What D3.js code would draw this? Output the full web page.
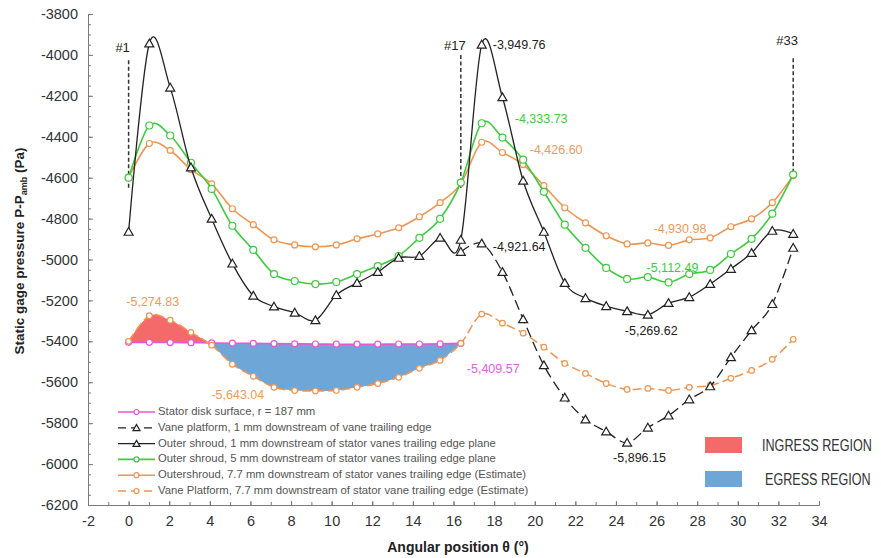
<!DOCTYPE html>
<html>
<head>
<meta charset="utf-8">
<script src="https://cdn.jsdelivr.net/npm/d3@7"></script>
<style>
  body { margin: 0; background: #fff; }
  svg { font-family: Arial, "Liberation Sans", sans-serif; }
</style>
</head>
<body>
<svg width="881" height="558"></svg>
<script>
// Angular positions of the 33 pressure taps (deg)
var theta = [0, 1.02, 2.05, 3.07, 4.09, 5.11, 6.14, 7.16, 8.18, 9.20, 10.23, 11.25, 12.27, 13.30, 14.32, 15.34,
  16.36, 17.39, 18.41, 19.43, 20.45, 21.48, 22.50, 23.52, 24.55, 25.57, 26.59, 27.61, 28.64, 29.66, 30.68, 31.70, 32.73];

// Static gage pressure (Pa)
var statorDisk = [-5405, -5405, -5406, -5407, -5408, -5409, -5410, -5411, -5412, -5413, -5414, -5414, -5414, -5413,
  -5413, -5412, -5410];
var vane1mm = [null, null, null, null, null, null, null, null, null, null, null, null, null, null, null, null,
  -4963, -4922, -5061, -5292, -5517, -5675, -5782, -5841, -5896, -5822, -5763, -5684, -5620, -5478, -5346, -5218, -4943];
var outer1mm = [-4865, -3944, -4160, -4550, -4801, -5020, -5177, -5230, -5260, -5297, -5174, -5115, -5061, -4992,
  -4983, -4894, -4904, -3950, -4207, -4615, -4865, -5115, -5189, -5228, -5253, -5270, -5213, -5184, -5120, -5046,
  -4968, -4860, -4875];
var outer5mm = [-4600, -4345, -4394, -4527, -4655, -4835, -4953, -5071, -5105, -5120, -5110, -5071, -5032, -4983,
  -4894, -4801, -4624, -4334, -4404, -4512, -4669, -4830, -4943, -5041, -5095, -5086, -5112, -5071, -5051, -4973,
  -4899, -4776, -4585];
var outer77 = [-4600, -4433, -4467, -4561, -4630, -4752, -4830, -4904, -4929, -4938, -4929, -4899, -4875, -4845,
  -4791, -4722, -4629, -4427, -4477, -4536, -4639, -4747, -4821, -4884, -4924, -4919, -4931, -4904, -4894, -4840,
  -4801, -4722, -4590];
var vane77 = [-5400, -5275, -5297, -5356, -5419, -5512, -5571, -5625, -5640, -5643, -5640, -5625, -5606, -5576,
  -5532, -5493, -5410, -5267, -5311, -5360, -5429, -5508, -5557, -5606, -5635, -5630, -5640, -5625, -5616, -5581,
  -5542, -5488, -5390];

var legendNames = [
  'Stator disk surface, r = 187 mm',
  'Vane platform, 1 mm downstream of vane trailing edge',
  'Outer shroud, 1 mm downstream of stator vanes trailing edge plane',
  'Outer shroud, 5 mm downstream of stator vanes trailing edge plane',
  'Outershroud, 7.7 mm downstream of stator vanes trailing edge (Estimate)',
  'Vane Platform, 7.7 mm downstream of stator vane trailing edge (Estimate)'
];

var xTicks = [-2, 0, 2, 4, 6, 8, 10, 12, 14, 16, 18, 20, 22, 24, 26, 28, 30, 32, 34];
var yTicks = [-3800, -4000, -4200, -4400, -4600, -4800, -5000, -5200, -5400, -5600, -5800, -6000, -6200];

var svg = d3.select('svg');

var xScale = d3.scaleLinear().domain([-2, 34]).range([88, 819]);
var yScale = d3.scaleLinear().domain([-6200, -3800]).range([505, 14]);

var curve = d3.curveCardinal.tension(0);

// series styling
var series = [
  {name: legendNames[0], values: statorDisk, color: '#e757d6', dash: null, marker: 'circle', r: 3, width: 1.6},
  {name: legendNames[5], values: vane77, color: '#f0954f', dash: '9,4', marker: 'circle', r: 2.8, width: 1.5},
  {name: legendNames[4], values: outer77, color: '#f0954f', dash: null, marker: 'circle', r: 3, width: 1.6},
  {name: legendNames[3], values: outer5mm, color: '#3ccc3c', dash: null, marker: 'circle', r: 3.5, width: 1.6},
  {name: legendNames[2], values: outer1mm, color: '#222', dash: null, marker: 'triangle', r: 3.2, width: 1.3},
  {name: legendNames[1], values: vane1mm, color: '#222', dash: '10,5', marker: 'triangle', r: 3.2, width: 1.3}
];

function pts(values) {
  return values.map(function(v, i) { return {x: theta[i], y: v}; })
    .filter(function(d) { return d.y !== null; });
}

// ---- ingress / egress fill between stator disk and vane platform 7.7 mm
var defs = svg.append('defs');
var fillPts = statorDisk.map(function(v, i) { return {x: theta[i], s: v, v: vane77[i]}; });

defs.append('clipPath').attr('id', 'aboveDisk').append('path')
  .attr('d', d3.area().curve(curve)
    .x(function(d) { return xScale(d.x); })
    .y0(function(d) { return yScale(d.s); })
    .y1(yScale(-3800))(fillPts));
defs.append('clipPath').attr('id', 'belowDisk').append('path')
  .attr('d', d3.area().curve(curve)
    .x(function(d) { return xScale(d.x); })
    .y0(function(d) { return yScale(d.s); })
    .y1(yScale(-6200))(fillPts));

var fillArea = d3.area().curve(curve)
  .x(function(d) { return xScale(d.x); })
  .y0(function(d) { return yScale(d.s); })
  .y1(function(d) { return yScale(d.v); });

svg.append('path').attr('d', fillArea(fillPts)).attr('fill', '#f46a6a').attr('clip-path', 'url(#aboveDisk)');
svg.append('path').attr('d', fillArea(fillPts)).attr('fill', '#6ea6d8').attr('clip-path', 'url(#belowDisk)');

// ---- axes
var axisColor = '#7a7a7a';
var yMinor = d3.range(-6200, -3799, 50);
var xMinor = d3.range(-2, 34.5, 1);

svg.append('g').attr('transform', 'translate(88,0)')
  .call(d3.axisLeft(yScale).tickValues(yMinor).tickSize(-3).tickSizeOuter(0).tickFormat(''))
  .call(function(g) { g.selectAll('line, path').attr('stroke', axisColor); });
var yAxisG = svg.append('g').attr('transform', 'translate(88,0)')
  .call(d3.axisLeft(yScale).tickValues(yTicks).tickSize(-5).tickSizeOuter(0).tickPadding(10)
    .tickFormat(function(d) { return String(d); }));
yAxisG.selectAll('line, path').attr('stroke', axisColor);
yAxisG.selectAll('text').attr('font-size', 14.5).attr('fill', '#333').attr('font-family', null);

svg.append('g').attr('transform', 'translate(0,505)')
  .call(d3.axisBottom(xScale).tickValues(xMinor).tickSize(-3).tickSizeOuter(0).tickFormat(''))
  .call(function(g) { g.selectAll('line, path').attr('stroke', axisColor); });
var xAxisG = svg.append('g').attr('transform', 'translate(0,505)')
  .call(d3.axisBottom(xScale).tickValues(xTicks).tickSize(-4).tickSizeOuter(0).tickPadding(11)
    .tickFormat(function(d) { return String(d); }));
xAxisG.selectAll('line, path').attr('stroke', axisColor);
xAxisG.selectAll('text').attr('font-size', 14.5).attr('fill', '#333').attr('font-family', null);

// axis titles
svg.append('text')
  .attr('x', 458).attr('y', 552)
  .attr('text-anchor', 'middle').attr('font-size', 14).attr('font-weight', 'bold').attr('fill', '#222')
  .text('Angular position θ  (°)');

var yTitle = svg.append('text')
  .attr('transform', 'translate(24,251) rotate(-90)')
  .attr('text-anchor', 'middle').attr('font-size', 13.5).attr('font-weight', 'bold').attr('fill', '#222');
yTitle.append('tspan').text('Static gage pressure P-P');
yTitle.append('tspan').attr('font-size', 9).attr('dy', 3).text('amb');
yTitle.append('tspan').attr('dy', -3).text('  (Pa)');

// ---- reference taps (#1, #17, #33)
var taps = [{label: '#1', i: 0, top: -4026, bottom: -4650, ly: -3967},
            {label: '#17', i: 16, top: -4001, bottom: -4650, ly: -3957},
            {label: '#33', i: 32, top: -4016, bottom: -4590, ly: -3937}];
taps.forEach(function(t) {
  svg.append('line')
    .attr('x1', xScale(theta[t.i])).attr('x2', xScale(theta[t.i]))
    .attr('y1', yScale(t.top)).attr('y2', yScale(t.bottom))
    .attr('stroke', '#333').attr('stroke-width', 1.5).attr('stroke-dasharray', '4,2.5');
  svg.append('text')
    .attr('x', xScale(theta[t.i]) - 6).attr('y', yScale(t.ly))
    .attr('text-anchor', 'middle').attr('dominant-baseline', 'middle')
    .attr('font-size', 13).attr('fill', '#222')
    .text(t.label);
});

// ---- lines and markers
function drawMarker(g, s, x, y, r) {
  if (s.marker === 'circle') {
    g.append('circle').attr('cx', x).attr('cy', y).attr('r', r)
      .attr('fill', '#fff').attr('stroke', s.color).attr('stroke-width', 1.2);
  } else {
    g.append('path').attr('d', d3.symbol(d3.symbolTriangle, r * r * 3.4)())
      .attr('transform', 'translate(' + x + ',' + (y + 0.8) + ')')
      .attr('fill', '#fff').attr('stroke', s.color).attr('stroke-width', 1.2);
  }
}

var line = d3.line().curve(curve)
  .x(function(d) { return xScale(d.x); })
  .y(function(d) { return yScale(d.y); });

series.forEach(function(s) {
  var data = pts(s.values);
  var g = svg.append('g');
  g.append('path').attr('d', line(data))
    .attr('fill', 'none').attr('stroke', s.color).attr('stroke-width', s.width)
    .attr('stroke-dasharray', s.dash);
  data.forEach(function(d) { drawMarker(g, s, xScale(d.x), yScale(d.y), s.r); });
});

// ---- value labels, anchored to data points
var labels = [
  {text: '-3,949.76', values: outer1mm, i: 17, dx: 11, dy: 1, color: '#222'},
  {text: '-4,333.73', values: outer5mm, i: 17, dx: 33, dy: -4, color: '#3ccc3c'},
  {text: '-4,426.60', values: outer77, i: 17, dx: 48, dy: 8, color: '#f09a5a'},
  {text: '-4,921.64', values: vane1mm, i: 17, dx: 11, dy: 4, color: '#222'},
  {text: '-4,930.98', values: outer77, i: 26, dx: -15, dy: -16, color: '#f09a5a'},
  {text: '-5,112.49', values: outer5mm, i: 26, dx: -22, dy: -14, color: '#3ccc3c'},
  {text: '-5,269.62', values: outer1mm, i: 25, dx: -23, dy: 17, color: '#222'},
  {text: '-5,896.15', values: vane1mm, i: 24, dx: -14, dy: 16, color: '#222'},
  {text: '-5,409.57', values: statorDisk, i: 16, dx: 6, dy: 26, color: '#e060de'},
  {text: '-5,274.83', values: vane77, i: 1, dx: -23, dy: -13, color: '#f09a5a'},
  {text: '-5,643.04', values: vane77, i: 9, dx: -104, dy: 5, color: '#f09a5a'}
];
labels.forEach(function(l) {
  svg.append('text')
    .attr('x', xScale(theta[l.i]) + l.dx).attr('y', yScale(l.values[l.i]) + l.dy)
    .attr('dominant-baseline', 'middle').attr('font-size', 12.5).attr('fill', l.color)
    .text(l.text);
});

// ---- series legend
var legendOrder = [0, 5, 4, 3, 2, 1]; // indexes into series
var legend = svg.append('g').attr('transform', 'translate(118,412)');
legendOrder.forEach(function(si, row) {
  var s = series[si];
  var ly = row * 15.8;
  legend.append('line').attr('x1', 0).attr('x2', 37).attr('y1', ly).attr('y2', ly)
    .attr('stroke', s.color).attr('stroke-width', s.width)
    .attr('stroke-dasharray', s.dash ? '8,5' : null);
  drawMarker(legend, s, 18.5, ly, 2.5);
  legend.append('text').attr('x', 40).attr('y', ly).attr('dominant-baseline', 'middle')
    .attr('font-size', 11.3).attr('fill', '#555').text(legendNames[row]);
});

// ---- ingress / egress legend (narrow face: scaled vertically)
var regions = [{name: 'INGRESS REGION', color: '#f46a6a', y: 437},
               {name: 'EGRESS REGION', color: '#6ea6d8', y: 471}];
regions.forEach(function(r, k) {
  svg.append('rect').attr('x', 705).attr('y', r.y).attr('width', 37).attr('height', 16).attr('fill', r.color);
  svg.append('text')
    .attr('transform', 'translate(' + (762 + k * 3) + ',' + (r.y + 14) + ') scale(1,1.3)')
    .attr('font-size', 12.6).attr('fill', '#333')
    .text(r.name);
});
</script>
</body>
</html>
